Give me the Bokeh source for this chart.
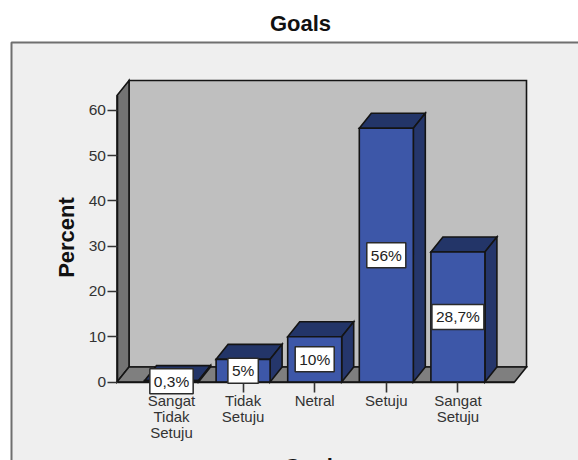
from bokeh.core.properties import value
from bokeh.embed import file_html
from bokeh.models import ColumnDataSource, FixedTicker
from bokeh.plotting import figure
from bokeh.resources import INLINE

categories = ["Sangat\nTidak\nSetuju", "Tidak\nSetuju", "Netral", "Setuju", "Sangat\nSetuju"]
percents = [0.3, 5, 10, 56, 28.7]
bar_labels = ["0,3%", "5%", "10%", "56%", "28,7%"]
percent_ticks = [0, 10, 20, 30, 40, 50, 60]

W, H = 578, 460
X0, STEP = 171.0, 71.6        # pixel of the first category, pixels per category
Y0, UNIT = 381.5, 4.53        # pixel of zero percent, pixels per percent
FONT = value("Liberation Sans")


def dx(px):
    return (px - X0) / STEP


def dy(py):
    return (Y0 - py) / UNIT


DEPTH_X = 12 / STEP           # oblique depth of the 3-D box
DEPTH_Y = 15 / UNIT
HALF_BAR = 27 / STEP

p = figure(width=W, height=H, output_backend="svg", toolbar_location=None,
           x_range=(dx(0), dx(W)), y_range=(dy(H), dy(0)),
           min_border=0, min_border_left=0, min_border_right=0,
           min_border_top=0, min_border_bottom=0,
           background_fill_color="white", border_fill_color="white")
p.outline_line_color = None
p.grid.visible = False

# chart area panel
p.quad(left=[dx(11)], right=[dx(600)], top=[dy(42)], bottom=[dy(480)],
       fill_color="#efefef", line_color="#6f6f6f", line_width=2)

# 3-D chamber: back wall, left wall, floor
LEFT, RIGHT = dx(116.5), dx(514)
WALL_TOP = dy(95)
EDGE = dict(line_color="#141414", line_width=1.6, line_join="miter")
p.patch([LEFT + DEPTH_X, RIGHT + DEPTH_X, RIGHT + DEPTH_X, LEFT + DEPTH_X],
        [DEPTH_Y, DEPTH_Y, WALL_TOP + DEPTH_Y, WALL_TOP + DEPTH_Y], fill_color="#bfbfbf", **EDGE)
p.patch([LEFT, LEFT + DEPTH_X, LEFT + DEPTH_X, LEFT],
        [0, DEPTH_Y, WALL_TOP + DEPTH_Y, WALL_TOP], fill_color="#737373", **EDGE)
p.patch([LEFT, LEFT + DEPTH_X, RIGHT + DEPTH_X, RIGHT],
        [0, DEPTH_Y, DEPTH_Y, 0], fill_color="#7f7f7f", **EDGE)

# bars as oblique boxes: top, side, front
for i, v in enumerate(percents):
    a, b = i - HALF_BAR, i + HALF_BAR
    p.patch([a, a + DEPTH_X, b + DEPTH_X, b], [v, v + DEPTH_Y, v + DEPTH_Y, v],
            fill_color="#233568", **EDGE)
    p.patch([b, b + DEPTH_X, b + DEPTH_X, b], [0, DEPTH_Y, v + DEPTH_Y, v],
            fill_color="#25366b", **EDGE)
    p.patch([a, b, b, a], [0, 0, v, v], fill_color="#3d57a8", **EDGE)

# value boxes centred on each bar
src = ColumnDataSource(dict(x=list(range(len(percents))),
                            y=[v / 2 for v in percents],
                            t=bar_labels))
p.text(x="x", y="y", text="t", source=src, level="annotation",
       text_font=FONT, text_font_size="15.5px", text_color="#222222",
       text_align="center", text_baseline="middle",
       background_fill_color="white", border_line_color="#2a2a2a", border_line_width=1.5,
       padding=4)

# axes placed at the front edges of the chamber
p.yaxis.fixed_location = LEFT
p.yaxis.bounds = (0, WALL_TOP)
p.yaxis.ticker = FixedTicker(ticks=percent_ticks)
p.yaxis.major_tick_out = 10
p.yaxis.major_tick_in = 0
p.yaxis.minor_tick_line_color = None
p.yaxis.major_label_text_font = "Liberation Sans"
p.yaxis.major_label_text_font_size = "15.5px"
p.yaxis.major_label_text_color = "#333333"
p.yaxis.major_label_standoff = 1
p.yaxis.axis_line_color = "#141414"
p.yaxis.axis_line_width = 1.6
p.yaxis.major_tick_line_color = "#333333"
p.yaxis.major_tick_line_width = 1.6

p.xaxis.fixed_location = 0
p.xaxis.bounds = (LEFT, RIGHT)
p.xaxis.ticker = FixedTicker(ticks=list(range(len(categories))))
p.xaxis.major_label_overrides = {i: c for i, c in enumerate(categories)}
p.xaxis.major_tick_out = 10
p.xaxis.major_tick_in = 0
p.xaxis.minor_tick_line_color = None
p.xaxis.major_label_text_font = "Liberation Sans"
p.xaxis.major_label_text_font_size = "15px"
p.xaxis.major_label_text_line_height = 0.95
p.xaxis.major_label_text_color = "#333333"
p.xaxis.major_label_standoff = 0
p.xaxis.axis_line_color = "#141414"
p.xaxis.axis_line_width = 1.6
p.xaxis.major_tick_line_color = "#333333"
p.xaxis.major_tick_line_width = 1.6

# titles
BOLD = dict(text_font=FONT, text_font_style="bold", text_color="#111111",
            text_align="center", text_baseline="middle", level="annotation")
p.text(x=[dx(300)], y=[dy(23)], text=["Goals"], text_font_size="22px", **BOLD)
p.text(x=[dx(66)], y=[dy(237)], text=["Percent"], text_font_size="22px", angle=1.5708, **BOLD)
p.text(x=[dx(314)], y=[dy(466)], text=["Goals"], text_font_size="22px", **BOLD)

open("out.html", "w").write(file_html(p, INLINE))
